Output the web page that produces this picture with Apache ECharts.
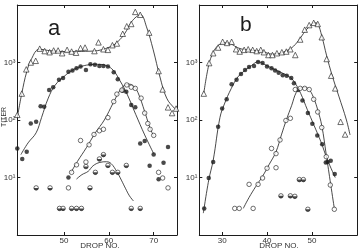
<!DOCTYPE html>
<html>
<head>
<meta charset="utf-8">
<script src="https://cdn.jsdelivr.net/npm/echarts@6/dist/echarts.min.js"></script>
<style>
  html, body { margin: 0; padding: 0; background: #fff; }
  #chart { width: 359px; height: 251px; }
</style>
</head>
<body>
<div id="chart"></div>
<script>
// tick labels
const xTicksA = [50, 60, 70];
const xTicksB = [30, 40, 50];
const yTickLabels = { 1: '10¹', 2: '10²', 3: '10³' };

// panel a  [drop no., titer]
const triA = [[39.6,123],[40.6,288],[41.6,760],[42.6,1000],[43.7,1070],[44.6,1740],[45.7,1580],[46.8,1510],[47.7,1620],[48.7,1620],[49.6,1450],[50.7,1660],[51.7,1550],[52.7,1480],[53.7,1780],[54.7,1820],[56.8,1580],[57.7,2240],[58.8,1700],[59.8,1660],[60.8,2000],[61.8,2140],[63.1,3160],[64.0,4270],[65.0,4680],[65.9,7590],[67.0,6760],[69.0,3310],[71.1,710],[72.0,340],[73.2,166],[74.1,132],[75.0,158]];
const triCurveA = [[39.6,110],[40.6,290],[41.7,690],[42.8,1170],[44.5,1700],[47,1600],[50.6,1550],[53,1560],[56.5,1580],[60.2,1860],[62,2300],[63.6,3240],[65,5000],[66.2,6300],[67.1,6760],[68.4,4170],[69.9,1660],[71.4,560],[72.9,240],[74.7,158],[75.2,150]];
const filledA = [[39.6,32],[40.7,21],[41.7,28],[42.6,87],[43.8,93],[44.8,174],[45.6,170],[46.7,331],[47.6,372],[48.9,501],[49.8,537],[51.0,692],[51.9,724],[52.8,794],[53.7,851],[54.9,741],[55.9,933],[56.9,912],[57.9,871],[58.8,871],[59.8,851],[61.1,676],[62.0,513],[63.1,324],[63.9,309],[65.0,182],[65.9,166],[67.0,39],[68.0,43],[69.1,16],[70.0,25],[71.1,9.3],[72.2,18],[73.2,34],[51.0,10]];
const filledCurveA = [[40.4,25],[42,40],[43.8,60],[45,110],[46.5,240],[48,400],[50,570],[52,740],[54,860],[56,920],[57.5,930],[59.5,880],[61,730],[62.5,480],[64,290],[66,125],[68,55],[70,26]];
const openA = [[51.0,6.6],[51.7,12.3],[52.8,16.6],[53.7,44],[54.9,18.6],[55.6,37],[56.7,56],[57.9,65],[58.8,69],[59.8,110],[61.1,209],[61.8,282],[62.9,331],[64.0,407],[65.0,372],[65.9,355],[67.2,240],[68.0,132],[68.7,87],[69.2,69],[70.0,54],[71.1,12.3],[72.0,9.8],[73.2,6.6]];
const openCurveA = [[51.5,12],[53,19],[55,33],[57,60],[59,100],[61,200],[62.5,330],[63.5,400],[64.5,420],[65.5,390],[66.5,300],[68,140],[69,80],[70,52]];
const halfA = [[43.8,6.6],[46.9,6.6],[49.0,2.9],[49.8,2.9],[51.7,2.9],[52.8,2.9],[53.9,2.9],[54.9,15.5],[55.8,6.6],[57.0,12.3],[57.9,21],[58.8,25],[59.8,16.2],[60.8,12.3],[62.0,12.3],[63.9,16.2],[65.0,2.9],[67.0,2.9]];
const halfCurveA = [[52.8,9.4],[54,11.2],[55.4,12.8],[56.5,16],[58,18.3],[59.5,18.8],[60.5,17.5],[61.8,12.6],[62.8,9],[63.7,6.5],[64.6,4.8],[65.5,3.9]];

// panel b  [drop no., titer]
const triB = [[25.9,288],[27.1,977],[28.0,1450],[29.1,1820],[30.1,2290],[31.1,2190],[32.1,2290],[33.1,1700],[33.9,1550],[34.9,1660],[35.8,1700],[36.8,1660],[37.7,1580],[38.6,1660],[39.3,1510],[40.3,1350],[41.2,1350],[42.2,1450],[43.3,1510],[44.3,1550],[45.2,1700],[46.3,1350],[47.4,2510],[48.4,3720],[49.4,4470],[50.4,4900],[51.3,4680],[52.2,2750],[53.3,1150],[54.3,590],[55.2,355],[56.4,93],[57.4,56]];
const triCurveB = [[25.9,290],[27,900],[28,1500],[29,1950],[30,2150],[31,2200],[32,2100],[33.5,1800],[35,1680],[37,1620],[39,1560],[41,1400],[42.5,1420],[44,1560],[45.5,1800],[47,2400],[48.5,3500],[49.8,4500],[50.6,4900],[51.3,4700],[52.2,2900],[53.3,1300],[54.5,600],[56,260],[57.7,100],[58.5,55]];
const filledB = [[26.0,2.9],[27.0,9.8],[28.0,18.6],[29.1,76],[30.0,158],[31.0,229],[32.1,417],[33.2,501],[34.2,631],[35.1,741],[36.0,832],[37.1,871],[38.0,1020],[39.0,977],[40.0,851],[41.0,794],[41.8,724],[42.6,661],[43.5,603],[44.4,589],[45.4,537],[46.0,437],[46.9,331],[47.9,219],[49.1,132],[50.1,86],[51.2,54],[52.3,38],[53.1,18.2],[53.5,18.6],[54.2,19.5],[55.1,11.5]];
const filledCurveB = [[25.8,2.4],[27,9],[28,20],[29.5,110],[30.5,190],[32,350],[33.5,560],[35,720],[36.5,880],[38,1030],[39.5,920],[41,800],[43,680],[45,560],[46,470],[47.5,290],[49,150],[50.5,80],[52,42],[53.5,20],[55.2,10]];
const openB = [[32.8,2.9],[33.8,2.9],[36.0,7.6],[36.9,2.9],[38.0,7.6],[39.0,9.8],[40.0,14.5],[41.0,32],[42.0,26],[42.0,14.8],[42.9,45],[44.2,98],[45.2,107],[46.3,339],[47.4,355],[48.4,355],[49.4,339],[50.4,229],[51.3,138],[52.2,74],[53.2,23],[54.1,7.4],[55.0,2.8]];
const openCurveB = [[34.7,2.9],[36,4.5],[37.5,7],[39,10.5],[40.5,17],[42,28],[43.2,55],[44.3,100],[45.5,180],[46.5,300],[47.5,360],[48.5,365],[49.5,330],[50.5,230],[51.3,150],[52.2,80],[53.2,25],[54.2,7.5],[55,2.9]];
const halfB = [[43.1,4.8],[45.2,4.8],[46.2,4.7],[47.2,9.2],[48.1,9.2],[49.1,2.8]];

const ink = '#1c1c1c';
const font = 'Liberation Sans';
const halfDisc = 'path://M0,0 L20,0 L19.5,3 L18,6 L15,8.7 L10,10 L5,8.7 L2,6 L0.5,3 Z';

const chart = echarts.init(document.getElementById('chart'));

function xAxes(grid, min, max, ticks, bottom) {
  return {
    type: 'value', gridIndex: grid, min: min, max: max,
    position: bottom ? 'bottom' : 'top',
    axisLine: { show: true, lineStyle: { color: ink, width: 1 } },
    axisTick: { show: true, inside: true, length: 3, customValues: ticks, lineStyle: { color: ink } },
    axisLabel: {
      show: bottom, customValues: ticks, margin: 2,
      color: '#333', fontSize: 8, fontFamily: font
    },
    splitLine: { show: false }
  };
}

function yAxes(grid, left) {
  return {
    type: 'log', gridIndex: grid, min: 1, max: 10000, logBase: 10,
    position: left ? 'left' : 'right',
    axisLine: { show: true, lineStyle: { color: ink, width: 1 } },
    axisTick: { show: true, inside: true, length: 3, lineStyle: { color: ink } },
    axisLabel: {
      show: left, margin: 2, color: '#333', fontSize: 8, fontFamily: font,
      formatter: v => yTickLabels[Math.round(Math.log10(v))] || ''
    },
    splitLine: { show: false }
  };
}

function curve(grid, data) {
  return {
    type: 'line', xAxisIndex: grid * 2, yAxisIndex: grid * 2, data: data,
    smooth: 0.4, showSymbol: false, silent: true, z: 1,
    lineStyle: { color: ink, width: 0.8 }
  };
}

function dots(grid, data, kind) {
  const s = {
    type: 'scatter', xAxisIndex: grid * 2, yAxisIndex: grid * 2, data: data,
    symbol: 'circle', symbolSize: 4.5, z: 3, clip: false,
    itemStyle: { color: '#fff', borderColor: ink, borderWidth: 0.8 }
  };
  if (kind === 'tri') { s.symbol = 'triangle'; s.symbolSize = 5.5; }
  if (kind === 'filled') { s.itemStyle = { color: ink }; }
  return s;
}

function halfFill(grid, data) {
  return {
    type: 'scatter', xAxisIndex: grid * 2, yAxisIndex: grid * 2, data: data,
    symbol: halfDisc, symbolSize: 4.6, symbolKeepAspect: true,
    symbolOffset: [0, '25%'], z: 4, clip: false,
    itemStyle: { color: ink }
  };
}

const option = {
  animation: false,
  backgroundColor: '#fff',
  grid: [
    { left: 17.3, top: 5, width: 159.7, height: 230 },
    { left: 199.3, top: 5, width: 157.9, height: 230 }
  ],
  xAxis: [
    xAxes(0, 39.6, 75.2, xTicksA, true), xAxes(0, 39.6, 75.2, xTicksA, false),
    xAxes(1, 24.9, 60.1, xTicksB, true), xAxes(1, 24.9, 60.1, xTicksB, false)
  ],
  yAxis: [
    yAxes(0, true), yAxes(0, false),
    yAxes(1, true), yAxes(1, false)
  ],
  series: [
    curve(0, triCurveA), curve(0, filledCurveA), curve(0, openCurveA), curve(0, halfCurveA),
    dots(0, triA, 'tri'), dots(0, filledA, 'filled'), dots(0, openA, 'open'),
    dots(0, halfA, 'open'), halfFill(0, halfA),
    curve(1, triCurveB), curve(1, filledCurveB), curve(1, openCurveB),
    dots(1, triB, 'tri'), dots(1, filledB, 'filled'), dots(1, openB, 'open'),
    dots(1, halfB, 'open'), halfFill(1, halfB)
  ],
  graphic: [
    { type: 'text', left: 48, top: 18, style: { text: 'a', fontSize: 22, fontFamily: font, fill: ink } },
    { type: 'text', left: 240, top: 15, style: { text: 'b', fontSize: 21, fontFamily: font, fill: ink } },
    { type: 'text', x: 4, y: 117, rotation: Math.PI / 2,
      style: { text: 'TITER', fontSize: 7, fontFamily: font, fill: '#333', align: 'center', verticalAlign: 'middle' } },
    { type: 'text', x: 100, y: 246, style: { text: 'DROP NO.', fontSize: 8, fontFamily: font, fill: '#333', align: 'center', verticalAlign: 'middle' } },
    { type: 'text', x: 279, y: 246, style: { text: 'DROP NO.', fontSize: 8, fontFamily: font, fill: '#333', align: 'center', verticalAlign: 'middle' } }
  ]
};

chart.setOption(option);
</script>
</body>
</html>
